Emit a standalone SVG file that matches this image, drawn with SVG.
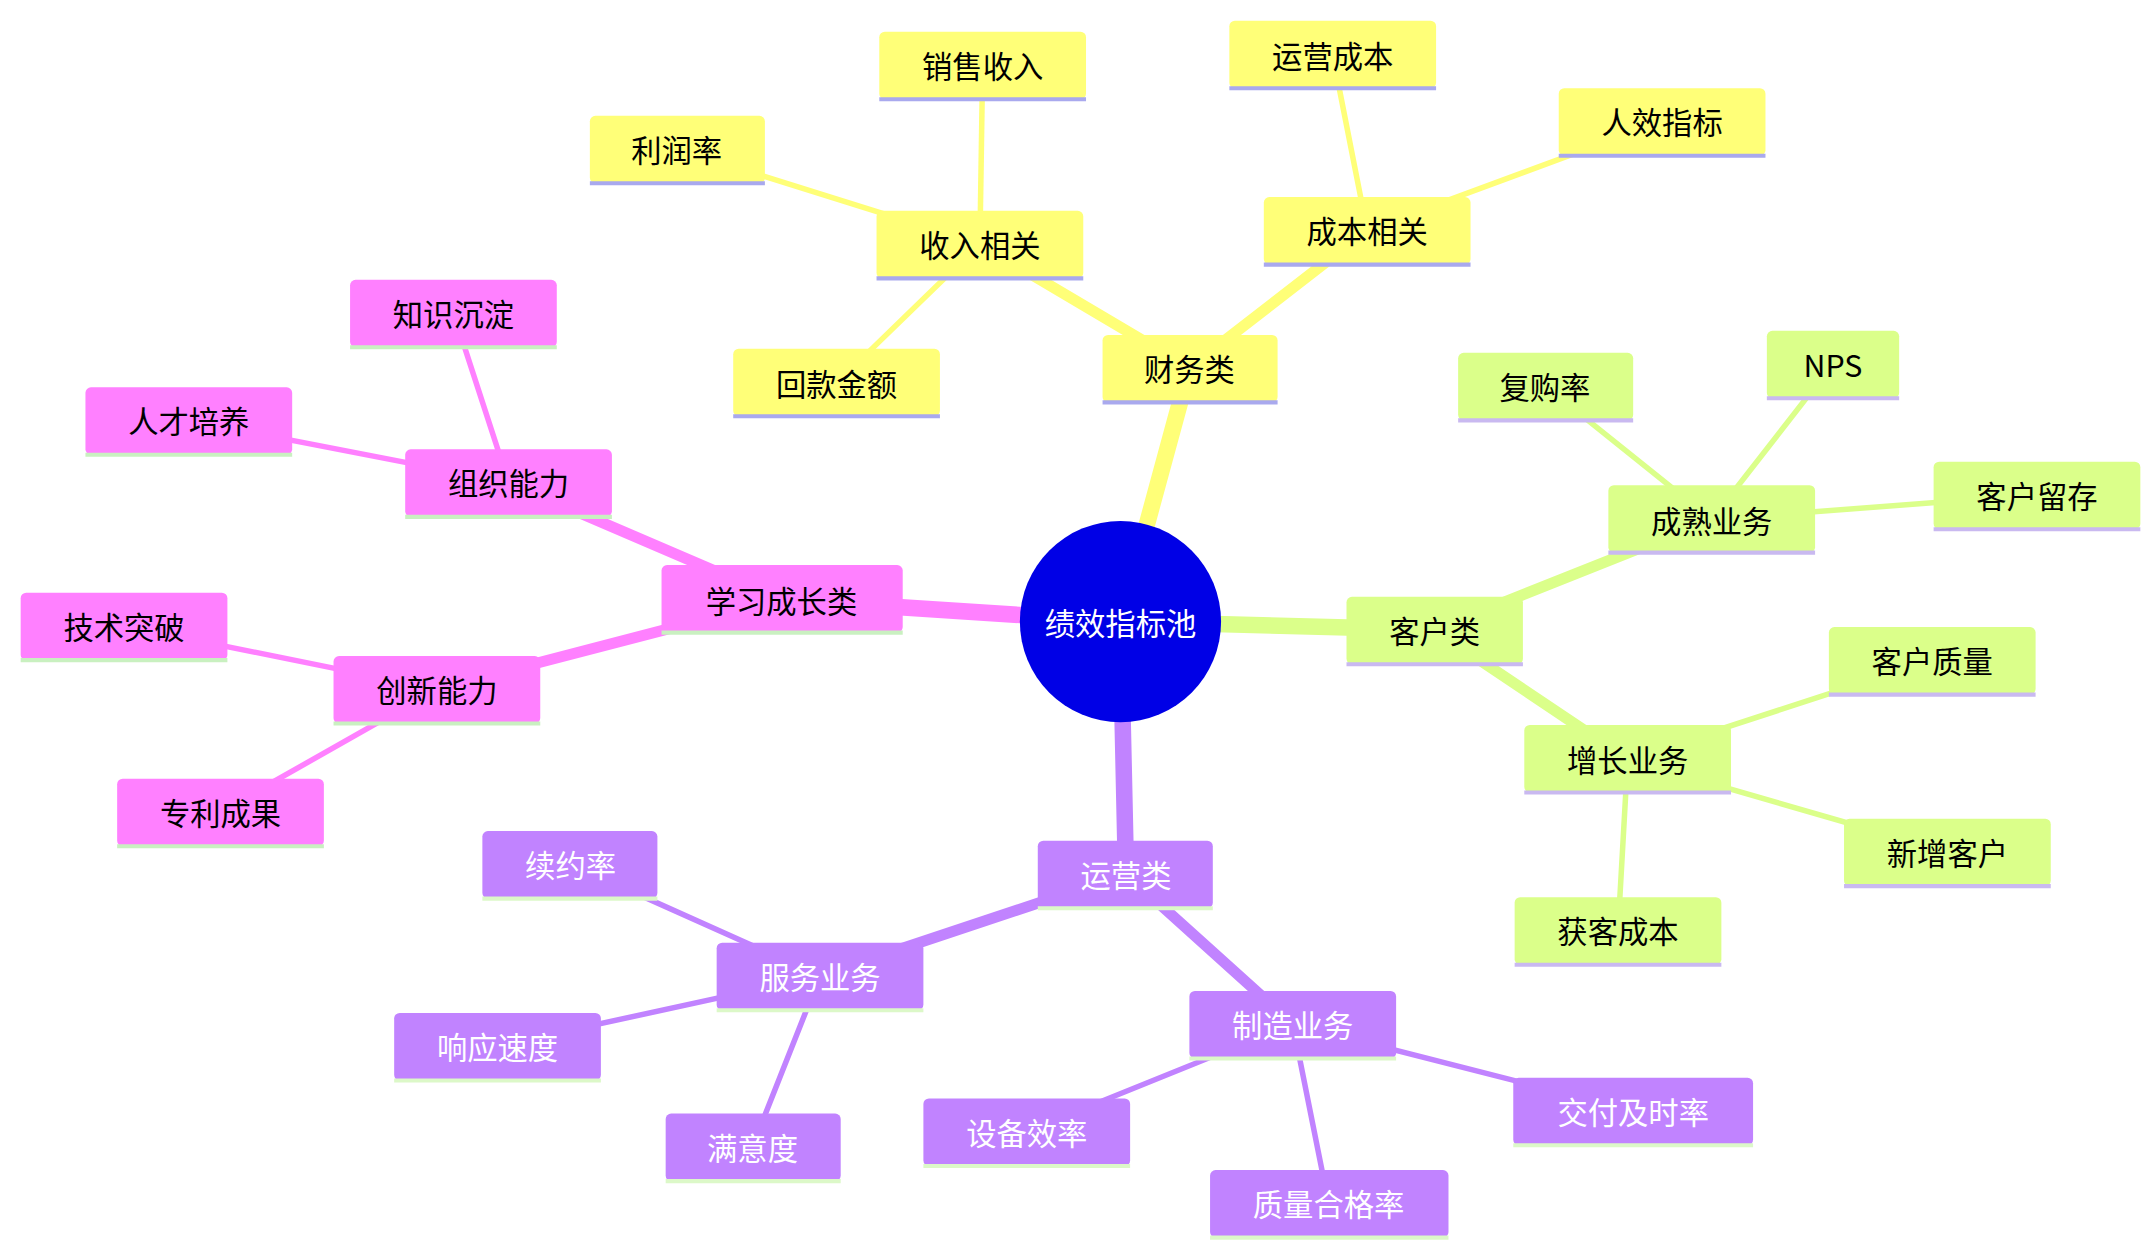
<svg xmlns="http://www.w3.org/2000/svg" width="2150" height="1251" viewBox="0 0 2150 1251">
<style>
text{font-family:"Noto Sans CJK SC","Noto Sans",sans-serif;font-size:22px;text-anchor:middle;dominant-baseline:central}
.y rect{fill:#ffff78}.y line{stroke:#a9a9ee}
.g rect{fill:#dbff8a}.g line{stroke:#c9b9f0}
.p rect{fill:#ff80ff}.p line{stroke:#c9f0c0}
.v rect{fill:#c183ff}.v line{stroke:#dcf8c8}.v text{fill:#fff}
.n line{stroke-width:3}
.e line{stroke-linecap:round}
</style>
<rect width="2150" height="1251" fill="#fff"/>
<g transform="scale(1.3782)">
<g id="connectors" class="e">
<g stroke="#ffff78">
<line x1="813" y1="451" x2="863" y2="267" stroke-width="12"/>
<line x1="863" y1="267" x2="711" y2="177" stroke-width="8"/>
<line x1="863" y1="267" x2="992" y2="167" stroke-width="8"/>
<line x1="711" y1="177" x2="713" y2="47" stroke-width="4"/>
<line x1="711" y1="177" x2="491" y2="108" stroke-width="4"/>
<line x1="711" y1="177" x2="607" y2="278" stroke-width="4"/>
<line x1="992" y1="167" x2="967" y2="40" stroke-width="4"/>
<line x1="992" y1="167" x2="1206" y2="88" stroke-width="4"/>
</g>
<g stroke="#dbff8a">
<line x1="813" y1="451" x2="1041" y2="457" stroke-width="12"/>
<line x1="1041" y1="457" x2="1242" y2="377" stroke-width="8"/>
<line x1="1041" y1="457" x2="1181" y2="551" stroke-width="8"/>
<line x1="1242" y1="377" x2="1121" y2="280" stroke-width="4"/>
<line x1="1242" y1="377" x2="1330" y2="264" stroke-width="4"/>
<line x1="1242" y1="377" x2="1478" y2="359" stroke-width="4"/>
<line x1="1181" y1="551" x2="1402" y2="479" stroke-width="4"/>
<line x1="1181" y1="551" x2="1413" y2="618" stroke-width="4"/>
<line x1="1181" y1="551" x2="1174" y2="675" stroke-width="4"/>
</g>
<g stroke="#ff80ff">
<line x1="813" y1="451" x2="567" y2="435" stroke-width="12"/>
<line x1="567" y1="435" x2="369" y2="350" stroke-width="8"/>
<line x1="567" y1="435" x2="317" y2="500" stroke-width="8"/>
<line x1="369" y1="350" x2="329" y2="227" stroke-width="4"/>
<line x1="369" y1="350" x2="137" y2="305" stroke-width="4"/>
<line x1="317" y1="500" x2="90" y2="454" stroke-width="4"/>
<line x1="317" y1="500" x2="160" y2="589" stroke-width="4"/>
</g>
<g stroke="#c183ff">
<line x1="813" y1="451" x2="817" y2="634" stroke-width="12"/>
<line x1="817" y1="634" x2="595" y2="708" stroke-width="8"/>
<line x1="817" y1="634" x2="938" y2="743" stroke-width="8"/>
<line x1="595" y1="708" x2="414" y2="627" stroke-width="4"/>
<line x1="595" y1="708" x2="361" y2="759" stroke-width="4"/>
<line x1="595" y1="708" x2="546" y2="832" stroke-width="4"/>
<line x1="938" y1="743" x2="745" y2="821" stroke-width="4"/>
<line x1="938" y1="743" x2="964" y2="873" stroke-width="4"/>
<line x1="938" y1="743" x2="1185" y2="806" stroke-width="4"/>
</g>
</g>
<g id="root"><circle cx="813" cy="451" r="73" fill="#0000e6"/><text x="813" y="451" fill="#fff">绩效指标池</text></g>
<g id="n1" class="n y"><rect x="800" y="243" width="127" height="49" rx="4"/><line x1="800" y1="292" x2="927" y2="292"/><text x="863" y="267">财务类</text></g>
<g id="n2" class="n y"><rect x="636" y="153" width="150" height="49" rx="4"/><line x1="636" y1="202" x2="786" y2="202"/><text x="711" y="177">收入相关</text></g>
<g id="n3" class="n y"><rect x="917" y="143" width="150" height="49" rx="4"/><line x1="917" y1="192" x2="1067" y2="192"/><text x="992" y="167">成本相关</text></g>
<g id="n4" class="n y"><rect x="638" y="23" width="150" height="49" rx="4"/><line x1="638" y1="72" x2="788" y2="72"/><text x="713" y="47">销售收入</text></g>
<g id="n5" class="n y"><rect x="428" y="84" width="127" height="49" rx="4"/><line x1="428" y1="133" x2="555" y2="133"/><text x="491" y="108">利润率</text></g>
<g id="n6" class="n y"><rect x="532" y="253" width="150" height="49" rx="4"/><line x1="532" y1="302" x2="682" y2="302"/><text x="607" y="278">回款金额</text></g>
<g id="n7" class="n y"><rect x="892" y="15" width="150" height="49" rx="4"/><line x1="892" y1="64" x2="1042" y2="64"/><text x="967" y="40">运营成本</text></g>
<g id="n8" class="n y"><rect x="1131" y="64" width="150" height="49" rx="4"/><line x1="1131" y1="113" x2="1281" y2="113"/><text x="1206" y="88">人效指标</text></g>
<g id="n9" class="n g"><rect x="977" y="433" width="128" height="49" rx="4"/><line x1="977" y1="482" x2="1105" y2="482"/><text x="1041" y="457">客户类</text></g>
<g id="n10" class="n g"><rect x="1167" y="352" width="150" height="49" rx="4"/><line x1="1167" y1="401" x2="1317" y2="401"/><text x="1242" y="377">成熟业务</text></g>
<g id="n11" class="n g"><rect x="1106" y="526" width="150" height="49" rx="4"/><line x1="1106" y1="575" x2="1256" y2="575"/><text x="1181" y="551">增长业务</text></g>
<g id="n12" class="n g"><rect x="1058" y="256" width="127" height="49" rx="4"/><line x1="1058" y1="305" x2="1185" y2="305"/><text x="1121" y="280">复购率</text></g>
<g id="n13" class="n g"><rect x="1282" y="240" width="96" height="49" rx="4"/><line x1="1282" y1="289" x2="1378" y2="289"/><text x="1330" y="264">NPS</text></g>
<g id="n14" class="n g"><rect x="1403" y="335" width="150" height="49" rx="4"/><line x1="1403" y1="384" x2="1553" y2="384"/><text x="1478" y="359">客户留存</text></g>
<g id="n15" class="n g"><rect x="1327" y="455" width="150" height="49" rx="4"/><line x1="1327" y1="504" x2="1477" y2="504"/><text x="1402" y="479">客户质量</text></g>
<g id="n16" class="n g"><rect x="1338" y="594" width="150" height="49" rx="4"/><line x1="1338" y1="643" x2="1488" y2="643"/><text x="1413" y="618">新增客户</text></g>
<g id="n17" class="n g"><rect x="1099" y="651" width="150" height="49" rx="4"/><line x1="1099" y1="700" x2="1249" y2="700"/><text x="1174" y="675">获客成本</text></g>
<g id="n18" class="n p"><rect x="480" y="410" width="175" height="49" rx="4"/><line x1="480" y1="459" x2="655" y2="459"/><text x="567" y="435">学习成长类</text></g>
<g id="n19" class="n p"><rect x="294" y="326" width="150" height="49" rx="4"/><line x1="294" y1="375" x2="444" y2="375"/><text x="369" y="350">组织能力</text></g>
<g id="n20" class="n p"><rect x="242" y="476" width="150" height="49" rx="4"/><line x1="242" y1="525" x2="392" y2="525"/><text x="317" y="500">创新能力</text></g>
<g id="n21" class="n p"><rect x="254" y="203" width="150" height="49" rx="4"/><line x1="254" y1="252" x2="404" y2="252"/><text x="329" y="227">知识沉淀</text></g>
<g id="n22" class="n p"><rect x="62" y="281" width="150" height="49" rx="4"/><line x1="62" y1="330" x2="212" y2="330"/><text x="137" y="305">人才培养</text></g>
<g id="n23" class="n p"><rect x="15" y="430" width="150" height="49" rx="4"/><line x1="15" y1="479" x2="165" y2="479"/><text x="90" y="454">技术突破</text></g>
<g id="n24" class="n p"><rect x="85" y="565" width="150" height="49" rx="4"/><line x1="85" y1="614" x2="235" y2="614"/><text x="160" y="589">专利成果</text></g>
<g id="n25" class="n v"><rect x="753" y="610" width="127" height="49" rx="4"/><line x1="753" y1="659" x2="880" y2="659"/><text x="817" y="634">运营类</text></g>
<g id="n26" class="n v"><rect x="520" y="684" width="150" height="49" rx="4"/><line x1="520" y1="733" x2="670" y2="733"/><text x="595" y="708">服务业务</text></g>
<g id="n27" class="n v"><rect x="863" y="719" width="150" height="49" rx="4"/><line x1="863" y1="768" x2="1013" y2="768"/><text x="938" y="743">制造业务</text></g>
<g id="n28" class="n v"><rect x="350" y="603" width="127" height="49" rx="4"/><line x1="350" y1="652" x2="477" y2="652"/><text x="414" y="627">续约率</text></g>
<g id="n29" class="n v"><rect x="286" y="735" width="150" height="49" rx="4"/><line x1="286" y1="784" x2="436" y2="784"/><text x="361" y="759">响应速度</text></g>
<g id="n30" class="n v"><rect x="483" y="808" width="127" height="49" rx="4"/><line x1="483" y1="857" x2="610" y2="857"/><text x="546" y="832">满意度</text></g>
<g id="n31" class="n v"><rect x="670" y="797" width="150" height="49" rx="4"/><line x1="670" y1="846" x2="820" y2="846"/><text x="745" y="821">设备效率</text></g>
<g id="n32" class="n v"><rect x="878" y="849" width="173" height="49" rx="4"/><line x1="878" y1="898" x2="1051" y2="898"/><text x="964" y="873">质量合格率</text></g>
<g id="n33" class="n v"><rect x="1098" y="782" width="174" height="49" rx="4"/><line x1="1098" y1="831" x2="1272" y2="831"/><text x="1185" y="806">交付及时率</text></g>
</g>
</svg>
